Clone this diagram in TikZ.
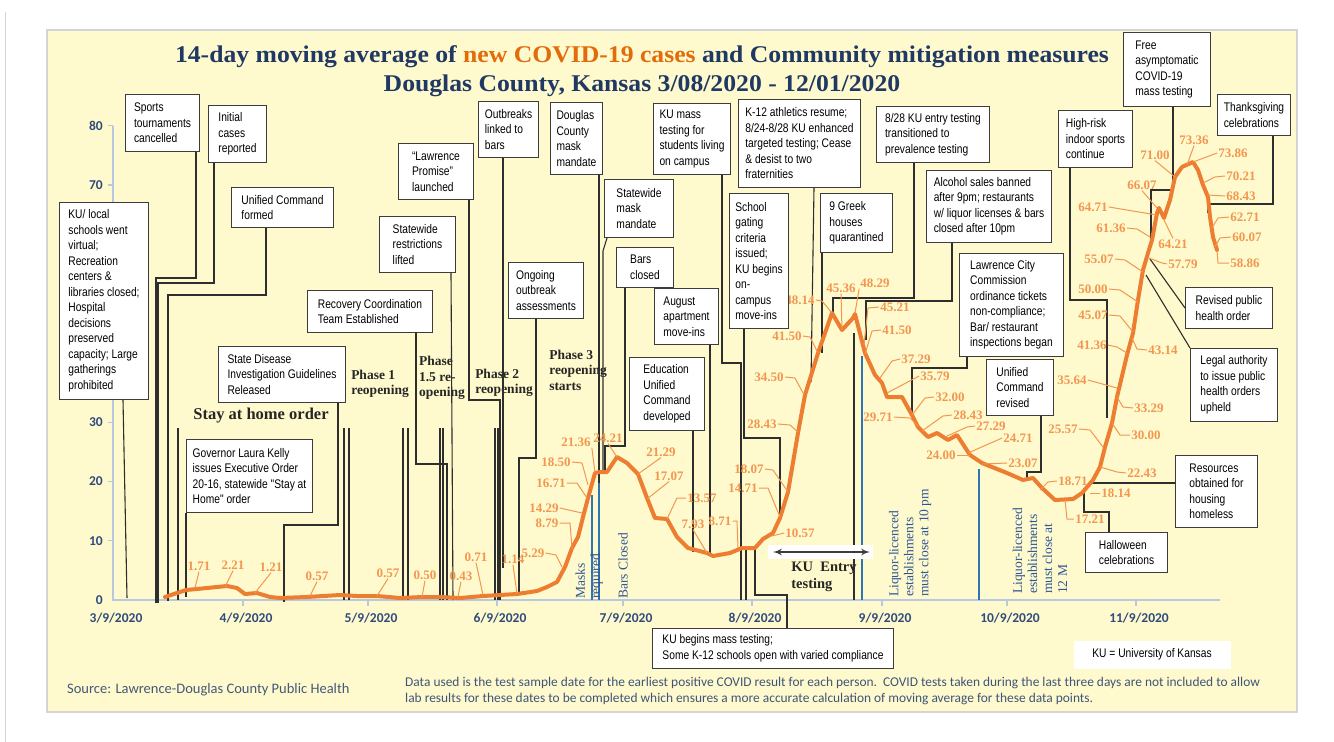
\documentclass[tikz,border=0pt]{standalone}
\usepackage{fontspec}
\setmainfont{Liberation Serif}
\newfontfamily\boxfont{Liberation Sans}[FakeStretch=0.82]
\newfontfamily\titlefont{Liberation Serif}[FakeStretch=1.07]
\newfontfamily\calfont{Carlito}
\usetikzlibrary{arrows, backgrounds}

\definecolor{panel}{HTML}{FFFACD}
\definecolor{panelline}{HTML}{D4D4D4}
\definecolor{boxline}{HTML}{3C3C3C}
\definecolor{connline}{HTML}{2E2E2E}
\definecolor{curvec}{HTML}{ED7D31}
\definecolor{labc}{HTML}{F39650}
\definecolor{markc}{HTML}{2E75B6}
\definecolor{rotc}{HTML}{2F5597}
\definecolor{axisc}{HTML}{2F4B7C}
\definecolor{axisline}{HTML}{B8C8E0}
\definecolor{titlec}{HTML}{1F3864}
\definecolor{titleor}{HTML}{E26B0A}
\definecolor{phasec}{HTML}{262626}
\definecolor{notec}{HTML}{3F5479}

\begin{document}
\begin{tikzpicture}[x=1pt,y=-1pt]
  \tikzset{box/.style = {draw=boxline, line width=1pt, fill=white, anchor=north west, align=left, inner sep=0pt, font=\boxfont\fontsize{12.5}{15.5}\selectfont}}
  \tikzset{conn/.style = {draw=connline, line width=1.1pt}}
  \tikzset{lab/.style = {text=labc, inner sep=1pt, font=\bfseries\fontsize{13}{13}\selectfont}}
  \tikzset{lead/.style = {draw=labc, line width=1pt}}
  \tikzset{phase/.style = {align=left, text=phasec, inner sep=0pt, font=\bfseries\fontsize{13.5}{15.5}\selectfont}}
  \tikzset{rot/.style = {rotate=90, anchor=west, align=left, text=rotc, inner sep=0pt, font=\fontsize{13.5}{15}\selectfont}}
  \tikzset{bluemark/.style = {draw=markc, line width=2.5pt}}
  \tikzset{datelab/.style = {text=axisc, inner sep=0pt, font=\calfont\bfseries\fontsize{13.5}{14}\selectfont}}
  \tikzset{note/.style = {text=notec, inner sep=0pt, anchor=west, font=\calfont\fontsize{13.4}{15}\selectfont}}

  \useasboundingbox (0,0) rectangle (1334,742);

  % annotation boxes
  \node[box, minimum width=89, minimum height=197] (kuschools) at (59,202) {KU/ local\\schools went\\virtual;\\Recreation\\centers \&\\libraries closed;\\Hospital\\decisions\\preserved\\capacity; Large\\gatherings\\prohibited};
  \node[box, minimum width=74, minimum height=57] (sports) at (125,94) {Sports\\tournaments\\cancelled};
  \node[box, minimum width=58, minimum height=57] (initial) at (208,105) {Initial\\cases\\reported};
  \node[box, minimum width=102, minimum height=40] (unified) at (231,187) {Unified Command\\formed};
  \node[box, minimum width=126, minimum height=73] (governor) at (186,439) {Governor Laura Kelly\\issues Executive Order\\20-16, statewide "Stay at\\Home" order};
  \node[box, minimum width=127, minimum height=56] (statedisease) at (218,346) {State Disease\\Investigation Guidelines\\Released};
  \node[box, minimum width=125, minimum height=42] (recovery) at (307,290) {Recovery Coordination\\Team Established};
  \node[box, minimum width=75, minimum height=56] (promise) at (398,143) {“Lawrence\\Promise”\\launched};
  \node[box, minimum width=76, minimum height=56] (statewide) at (379,216) {Statewide\\restrictions\\lifted};
  \node[box, minimum width=60, minimum height=56] (outbreaks) at (478,101) {Outbreaks\\linked to\\bars};
  \node[box, minimum width=75, minimum height=56] (ongoing) at (508,262) {Ongoing\\outbreak\\assessments};
  \node[box, minimum width=52, minimum height=72] (douglas) at (550,102) {Douglas\\County\\mask\\mandate};
  \node[box, minimum width=69, minimum height=58] (statemask) at (604,179) {Statewide\\mask\\mandate};
  \node[box, minimum width=57, minimum height=40] (bars) at (616,247) {Bars\\closed};
  \node[box, minimum width=77, minimum height=71] (kumass) at (653,103) {KU mass\\testing for\\students living\\on campus};
  \node[box, minimum width=64, minimum height=56] (august) at (654,288) {August\\apartment\\move-ins};
  \node[box, minimum width=75, minimum height=73] (education) at (629,357) {Education\\Unified\\Command\\developed};
  \node[box, minimum width=122, minimum height=88] (k12) at (738,99) {K-12 athletics resume;\\8/24-8/28 KU enhanced\\targeted testing; Cease\\\& desist to two\\fraternities};
  \node[box, minimum width=59, minimum height=135] (gating) at (729,193) {School\\gating\\criteria\\issued;\\KU begins\\on-\\campus\\move-ins};
  \node[box, minimum width=72, minimum height=59] (greek) at (820,193) {9 Greek\\houses\\quarantined};
  \node[box, minimum width=113, minimum height=56] (entry) at (876,106) {8/28 KU entry testing\\transitioned to\\prevalence testing};
  \node[box, minimum width=125, minimum height=72] (alcohol) at (926,170) {Alcohol sales banned\\after 9pm; restaurants\\w/ liquor licenses \& bars\\closed after 10pm};
  \node[box, minimum width=104, minimum height=103] (lawrence) at (959,253) {Lawrence City\\Commission\\ordinance tickets\\non-compliance;\\Bar/ restaurant\\inspections began};
  \node[box, minimum width=67, minimum height=56] (ucrevised) at (986,359) {Unified\\Command\\revised};
  \node[box, minimum width=74, minimum height=57] (highrisk) at (1058,110) {High-risk\\indoor sports\\continue};
  \node[box, minimum width=87, minimum height=74] (free) at (1123,32) {Free\\asymptomatic\\COVID-19\\mass testing};
  \node[box, minimum width=73, minimum height=41] (thanks) at (1217,94) {Thanksgiving\\celebrations};
  \node[box, minimum width=87, minimum height=41] (revised) at (1185,287) {Revised public\\health order};
  \node[box, minimum width=87, minimum height=73] (legal) at (1190,348) {Legal authority\\to issue public\\health orders\\upheld};
  \node[box, minimum width=82, minimum height=72] (resources) at (1175,455) {Resources\\obtained for\\housing\\homeless};
  \node[box, minimum width=82, minimum height=40] (halloween) at (1085,532) {Halloween\\celebrations};
  \node[box, minimum width=241, minimum height=40] (kubegins) at (652,628) {KU begins mass testing;\\Some K-12 schools open with varied compliance};
  \node[box, draw=none, minimum width=157, minimum height=28] (kukey) at (1073,640) {KU = University of Kansas};

  \begin{scope}[on background layer]
    % panel and frame
    \fill[white] (0,0) rectangle (1334,742);
    \draw[panelline, line width=1pt] (5,12) -- (5,742);
    \draw[panelline, fill=panel, line width=1.5pt] (47,30) rectangle (1297,712);

    % title
    \node[text=titlec, font=\titlefont\bfseries\fontsize{24}{26}\selectfont] (title1) at (642,57) {14-day moving average of \textcolor{titleor}{new COVID-19 cases} and Community mitigation measures};
    \node[text=titlec, font=\titlefont\bfseries\fontsize{24}{26}\selectfont] (title2) at (642,86) {Douglas County, Kansas 3/08/2020 - 12/01/2020};

    % axes
    \draw[axisline, line width=1.2pt] (113,126) -- (113,600) -- (1220,600);
    \draw[axisline, line width=1.2pt] (108,125.6) -- (113,125.6) (108,184.9) -- (113,184.9) (108,422.1) -- (113,422.1) (108,481.4) -- (113,481.4) (108,540.7) -- (113,540.7);
    \draw[axisline, line width=1.2pt] (243,600) -- (243,606) (368,600) -- (368,606) (497,600) -- (497,606) (623,600) -- (623,606) (752,600) -- (752,606) (882,600) -- (882,606) (1007,600) -- (1007,606) (1136,600) -- (1136,606);
    \node[datelab, anchor=east] (y80) at (103,125.6) {80};
    \node[datelab, anchor=east] (y70) at (103,184.9) {70};
    \node[datelab, anchor=east] (y30) at (103,422.1) {30};
    \node[datelab, anchor=east] (y20) at (103,481.4) {20};
    \node[datelab, anchor=east] (y10) at (103,540.7) {10};
    \node[datelab, anchor=east] (y0) at (103,600) {0};
    \node[datelab] (d1) at (116,618) {3/9/2020};
    \node[datelab] (d2) at (246,618) {4/9/2020};
    \node[datelab] (d3) at (371,618) {5/9/2020};
    \node[datelab] (d4) at (500,618) {6/9/2020};
    \node[datelab] (d5) at (626,618) {7/9/2020};
    \node[datelab] (d6) at (755,618) {8/9/2020};
    \node[datelab] (d7) at (885,618) {9/9/2020};
    \node[datelab] (d8) at (1010,618) {10/9/2020};
    \node[datelab] (d9) at (1139,618) {11/9/2020};

    % reopening phase markers
    \draw[conn] (178,428) -- (178,600);
    \draw[conn] (344,428) -- (344,600);
    \draw[conn] (349,428) -- (349,600);
    \draw[conn] (403,428) -- (403,600);
    \draw[conn] (408,428) -- (408,600);
    \draw[conn] (440,428) -- (440,600);
    \draw[conn] (443,428) -- (443,600);
    \draw[conn] (495,428) -- (495,600);
    \draw[conn] (498,428) -- (498,600);
    \draw[conn] (746,550) -- (746,600);
    \draw[conn] (854,333) -- (854,600);

    \node[phase, font=\bfseries\fontsize{16.5}{18}\selectfont] (stayhome) at (261,416) {Stay at home order};
    \node[phase] (phase1) at (380,384) {Phase 1\\reopening};
    \node[phase] (phase15) at (442,378) {Phase\\1.5 re-\\opening};
    \node[phase] (phase2) at (504,383) {Phase 2\\reopening};
    \node[phase] (phase3) at (578,370) {Phase 3\\reopening\\starts};

    % blue markers
    \draw[bluemark] (592,495) -- (592,600);
    \draw[bluemark, line width=1.6pt] (599,473) -- (599,600);
    \draw[bluemark] (862,356) -- (862,600);
    \draw[bluemark] (979,469) -- (979,600);
    \node[rot] (masks) at (589,599) {Masks\\required};
    \node[rot] (barsclosed) at (623,599) {Bars Closed};
    \node[rot] (liquor10) at (910,597) {Liquor-licenced\\establishments\\must close at 10 pm};
    \node[rot] (liquor12) at (1040,594) {Liquor-licenced\\establishments\\must close at\\12 M};

    % KU entry testing
    \fill[white] (768,545) rectangle (873,559);
    \coordinate (kua) at (773,552);
    \coordinate (kub) at (870,552);
    \draw[<->, >=latex', draw=boxline, line width=2pt] (kua) -- (kub);
    \node[phase, font=\bfseries\fontsize{14.5}{17}\selectfont] (kuentry) at (824,577) {KU\ \ Entry\\testing};

    % connector end points
    \coordinate (e-ku) at (127,598);
    \coordinate (e-sports) at (156,603);
    \coordinate (e-initial) at (158,603);
    \coordinate (e-unified) at (168,601);
    \coordinate (e-gov) at (186,597);
    \coordinate (e-statedisease) at (284,602);
    \coordinate (e-recovery) at (447,600);
    \coordinate (e-promise) at (500,600);
    \coordinate (e-statewide) at (453,600);
    \coordinate (e-outbreaks) at (503,568);
    \coordinate (e-ongoing) at (519,595);
    \coordinate (e-douglas) at (599,483);
    \coordinate (e-statemask) at (603,470);
    \coordinate (e-bars) at (605,470);
    \coordinate (e-kumass) at (741,600);
    \coordinate (e-august) at (710,553);
    \coordinate (e-education) at (693,552);
    \coordinate (e-gating) at (780,518);
    \coordinate (e-kubegins) at (755,548);
    \coordinate (e-k12) at (811,382);
    \coordinate (e-greek) at (822,353);
    \coordinate (e-entry) at (833,317);
    \coordinate (e-alcohol) at (866,340);
    \coordinate (e-lawrence) at (912,418);
    \coordinate (e-ucrevised) at (1027,480);
    \coordinate (e-highrisk) at (1107,418);
    \coordinate (e-free) at (1151,243);
    \coordinate (e-thanks) at (1208,213);
    \coordinate (e-revised) at (1150,259);
    \coordinate (e-legal) at (1146,275);
    \coordinate (e-resources) at (1092,483);
    \coordinate (e-halloween) at (1084,493);

    % connectors
    \draw[conn] (kuschools.south -| 123,0) -- (e-ku);
    \draw[conn] (sports.south -| 196,0) -- ++(0,126) -| (e-sports);
    \draw[conn] (initial.south -| 214,0) -- ++(0,120) -| (e-initial);
    \draw[conn] (unified.south -| 266,0) -- ++(0,67) -| (e-unified);
    \draw[conn] (governor.south west) -- (e-gov);
    \draw[conn] (statedisease.south -| 338,0) -- ++(0,122) -| (e-statedisease);
    \draw[conn] (recovery.south -| 416,0) -- ++(0,131) -| (e-recovery);
    \draw[conn] (promise.south -| 469,0) -- ++(0,200) -| (e-promise);
    \draw[conn] (statewide.south -| 451,0) -- (e-statewide);
    \draw[conn] (outbreaks.south -| 503,0) -- (e-outbreaks);
    \draw[conn] (ongoing.south -| 536,0) -- ++(0,139) -| (e-ongoing);
    \draw[conn] (douglas.south -| 599,0) -- (e-douglas);
    \draw[conn] (statemask.south -| 607,0) -- ++(-4,13) -- (e-statemask);
    \draw[conn] (bars.south -| 625,0) -- ++(0,158) -| (e-bars);
    \draw[conn] (kumass.south -| 722,0) -- ++(0,188) -| (e-kumass);
    \draw[conn] (august.south -| 710,0) -- (e-august);
    \draw[conn] (education.south -| 693,0) -- (e-education);
    \draw[conn] (gating.south -| 744,0) -- ++(0,109) -| (e-gating);
    \draw[conn] (kubegins.north -| 787,0) -- ++(0,-33) -| (e-kubegins);
    \draw[conn] (k12.south -| 814,0) -- (e-k12);
    \draw[conn] (greek.south -| 822,0) -- (e-greek);
    \draw[conn] (entry.south -| 914,0) -- ++(0,135) -| (e-entry);
    \draw[conn] (alcohol.south -| 952,0) -- ++(0,58) -| (e-alcohol);
    \draw[conn] (lawrence.south -| 967,0) -- ++(0,11) -| (e-lawrence);
    \draw[conn] (ucrevised.south -| 1041,0) -- ++(0,56) -| (e-ucrevised);
    \draw[conn] (highrisk.south -| 1070,0) -- ++(0,132) -| (e-highrisk);
    \draw[conn] (free.south -| 1173,0) -- ++(0,83) -| (e-free);
    \draw[conn] (thanks.south -| 1273,0) -- ++(0,68) -| (e-thanks);
    \draw[conn] (revised.west) -- (e-revised);
    \draw[conn] (legal.north west) -- (e-legal);
    \draw[conn] (resources.west |- e-resources) -- (e-resources);
    \draw[conn] (halloween.north -| 1109,0) -- ++(0,-20) -| (e-halloween);

    % moving average curve
    \draw[curvec, line width=4pt, line join=round, line cap=round] plot coordinates {(165,597) (177,593) (186,590) (197,589) (217,587) (227,586) (237,588) (245,594) (257,593) (270,597) (280,598) (307,597) (340,595) (357,596) (377,596) (400,598) (423,597) (440,597) (460,598) (483,596) (517,594) (537,591) (547,587) (557,582) (565,567) (572,548) (578,537) (583,517) (588,498) (595,473) (600,472) (607,472) (617,457) (627,463) (638,474) (647,498) (655,518) (667,519) (677,537) (688,548) (707,553) (713,556) (730,553) (742,548) (755,548) (763,539) (773,533) (780,518) (788,492) (798,433) (805,395) (818,353) (832,313) (842,330) (853,318) (855,314) (865,353) (875,375) (882,383) (887,397) (902,397) (912,415) (918,427) (928,437) (937,433) (948,440) (957,435) (970,455) (982,463) (1007,473) (1023,480) (1033,478) (1042,488) (1055,500) (1073,499) (1082,493) (1093,480) (1100,467) (1105,447) (1112,423) (1117,397) (1127,355) (1133,333) (1138,300) (1143,270) (1148,253) (1152,240) (1157,213) (1159,208) (1164,218) (1170,200) (1175,177) (1182,167) (1193,162) (1198,170) (1203,185) (1208,197) (1210,217) (1213,237) (1217,250)};

    % data labels
    \node[lab] (v171) at (199,566) {1.71};
    \draw[lead] (v171.south) -- (195,588);
    \node[lab] (v221) at (233,565) {2.21};
    \draw[lead] (v221.south) -- (225,587);
    \node[lab] (v121) at (271,567) {1.21};
    \draw[lead] (v121.south) -- (255,593);
    \node[lab] (v057a) at (317,576) {0.57};
    \draw[lead] (v057a.south) -- (310,596);
    \node[lab] (v057b) at (388,573) {0.57};
    \draw[lead] (v057b.south) -- (377,596);
    \node[lab] (v050) at (425,575) {0.50};
    \draw[lead] (v050.south) -- (422,597);
    \node[lab] (v043) at (461,576) {0.43};
    \draw[lead] (v043.south) -- (458,597);
    \node[lab] (v071) at (476,557) {0.71};
    \draw[lead] (v071.south) -- (483,595);
    \node[lab] (v114) at (513,559) {1.14};
    \draw[lead] (v114.south) -- (517,594);
    \node[lab] (v529) at (533,553) {5.29};
    \draw[lead] (v529.east) -- (556,555) -- (562,567);
    \node[lab] (v879) at (547,523) {8.79};
    \draw[lead] (v879.east) -- (570,523) -- (572,548);
    \node[lab] (v1429) at (544,508) {14.29};
    \draw[lead] (v1429.east) -- (582,513);
    \node[lab] (v1671) at (551,483) {16.71};
    \draw[lead] (v1671.east) -- (577,483) -- (587,498);
    \node[lab] (v1850) at (556,462) {18.50};
    \draw[lead] (v1850.east) -- (582,463) -- (588,485);
    \node[lab] (v2136) at (576,442) {21.36};
    \draw[lead] (v2136.south east) -- (595,473);
    \node[lab] (v2421) at (608,438) {24.21};
    \draw[lead] (v2421.south) -- (617,457);
    \node[lab] (v2129) at (661,452) {21.29};
    \draw[lead] (v2129.south) -- (638,474);
    \node[lab] (v1707) at (669,476) {17.07};
    \draw[lead] (v1707.south) -- (647,499);
    \node[lab] (v1357) at (702,498) {13.57};
    \draw[lead] (v1357.west) -- (677,498) -- (667,519);
    \node[lab] (v793) at (693,524) {7.93};
    \draw[lead] (v793.south) -- (707,553);
    \node[lab] (v871) at (720,521) {8.71};
    \draw[lead] (v871.east) -- (737,521) -- (738,548);
    \node[lab] (v1057) at (800,533) {10.57};
    \draw[lead] (v1057.west) -- (772,536);
    \node[lab] (v1471) at (743,488) {14.71};
    \draw[lead] (v1471.east) -- (768,488) -- (780,517);
    \node[lab] (v1807) at (749,469) {18.07};
    \draw[lead] (v1807.east) -- (773,470) -- (788,492);
    \node[lab] (v2843a) at (762,424) {28.43};
    \draw[lead] (v2843a.east) -- (790,425) -- (798,432);
    \node[lab] (v3450) at (769,377) {34.50};
    \draw[lead] (v3450.east) -- (795,378) -- (803,393);
    \node[lab] (v4150a) at (787,336) {41.50};
    \draw[lead] (v4150a.east) -- (810,337) -- (818,353);
    \node[lab] (v4814) at (800,300) {48.14};
    \draw[lead] (v4814.east) -- (822,301) -- (832,313);
    \node[lab] (v4536) at (841,288) {45.36};
    \draw[lead] (v4536.south) -- (842,330);
    \node[lab] (v4829) at (875,283) {48.29};
    \draw[lead] (v4829.south west) -- (855,313);
    \node[lab] (v4521) at (895,307) {45.21};
    \draw[lead] (v4521.west) -- (868,308) -- (864,345);
    \node[lab] (v4150b) at (897,330) {41.50};
    \draw[lead] (v4150b.west) -- (872,331) -- (865,354);
    \node[lab] (v3729) at (916,359) {37.29};
    \draw[lead] (v3729.west) -- (892,361) -- (880,378);
    \node[lab] (v3579) at (935,376) {35.79};
    \draw[lead] (v3579.west) -- (887,393);
    \node[lab] (v3200) at (950,397) {32.00};
    \draw[lead] (v3200.west) -- (925,398) -- (912,415);
    \node[lab] (v2971) at (878,417) {29.71};
    \draw[lead] (v2971.east) -- (910,418) -- (918,426);
    \node[lab] (v2843b) at (968,415) {28.43};
    \draw[lead] (v2843b.west) -- (943,416) -- (922,431);
    \node[lab] (v2729) at (991,426) {27.29};
    \draw[lead] (v2729.west) -- (967,427) -- (945,437);
    \node[lab] (v2471) at (1018,438) {24.71};
    \draw[lead] (v2471.west) -- (968,453);
    \node[lab] (v2400) at (941,455) {24.00};
    \draw[lead] (v2400.east) -- (970,455);
    \node[lab] (v2307) at (1023,463) {23.07};
    \draw[lead] (v2307.west) -- (983,464);
    \node[lab] (v1871) at (1073,481) {18.71};
    \draw[lead] (v1871.west) -- (1048,482) -- (1040,490);
    \node[lab] (v1721) at (1090,519) {17.21};
    \draw[lead] (v1721.west) -- (1067,519) -- (1065,500);
    \node[lab] (v1814) at (1116,493) {18.14};
    \draw[lead] (v1814.west) -- (1090,493);
    \node[lab] (v2243) at (1142,473) {22.43};
    \draw[lead] (v2243.west) -- (1117,472) -- (1100,467);
    \node[lab] (v2557) at (1063,429) {25.57};
    \draw[lead] (v2557.east) -- (1090,430) -- (1103,447);
    \node[lab] (v3000) at (1146,435) {30.00};
    \draw[lead] (v3000.west) -- (1120,435) -- (1112,423);
    \node[lab] (v3564) at (1072,380) {35.64};
    \draw[lead] (v3564.east) -- (1117,388);
    \node[lab] (v3329) at (1149,408) {33.29};
    \draw[lead] (v3329.west) -- (1123,407) -- (1117,397);
    \node[lab] (v4136) at (1092,345) {41.36};
    \draw[lead] (v4136.east) -- (1117,347) -- (1127,353);
    \node[lab] (v4314) at (1163,350) {43.14};
    \draw[lead] (v4314.west) -- (1137,349) -- (1132,338);
    \node[lab] (v4507) at (1093,315) {45.07};
    \draw[lead] (v4507.east) -- (1120,316) -- (1133,332);
    \node[lab] (v5000) at (1093,289) {50.00};
    \draw[lead] (v5000.east) -- (1120,290) -- (1138,302);
    \node[lab] (v5507) at (1099,259) {55.07};
    \draw[lead] (v5507.east) -- (1125,260) -- (1143,272);
    \node[lab] (v5779) at (1183,264) {57.79};
    \draw[lead] (v5779.west) -- (1162,263) -- (1149,258);
    \node[lab] (v6136) at (1111,228) {61.36};
    \draw[lead] (v6136.east) -- (1137,229) -- (1150,237);
    \node[lab] (v6471) at (1093,207) {64.71};
    \draw[lead] (v6471.east) -- (1157,215);
    \node[lab] (v6607) at (1142,185) {66.07};
    \draw[lead] (v6607.south) -- (1157,208);
    \node[lab] (v6421) at (1173,244) {64.21};
    \draw[lead] (v6421.north) -- (1164,220);
    \node[lab] (v7100) at (1155,155) {71.00};
    \draw[lead] (v7100.south) -- (1175,177);
    \node[lab] (v7336) at (1194,140) {73.36};
    \draw[lead] (v7336.south) -- (1187,165);
    \node[lab] (v7386) at (1233,153) {73.86};
    \draw[lead] (v7386.west) -- (1193,162);
    \node[lab] (v7021) at (1241,176) {70.21};
    \draw[lead] (v7021.west) -- (1215,177) -- (1203,183);
    \node[lab] (v6843) at (1241,196) {68.43};
    \draw[lead] (v6843.west) -- (1208,195);
    \node[lab] (v6271) at (1245,217) {62.71};
    \draw[lead] (v6271.west) -- (1218,218) -- (1212,228);
    \node[lab] (v6007) at (1247,237) {60.07};
    \draw[lead] (v6007.west) -- (1220,238) -- (1215,247);
    \node[lab] (v5886) at (1245,263) {58.86};
    \draw[lead] (v5886.west) -- (1218,263) -- (1217,250);

    % source and note
    \node[note, text=notec!90!gray, font=\calfont\fontsize{14.5}{16}\selectfont] (source) at (67,690) {Source: Lawrence-Douglas County Public Health};
    \node[note] (note1) at (405,683) {Data used is the test sample date for the earliest positive COVID result for each person.\ \ COVID tests taken during the last three days are not included to allow};
    \node[note] (note2) at (405,699) {lab results for these dates to be completed which ensures a more accurate calculation of moving average for these data points.};
  \end{scope}
\end{tikzpicture}
\end{document}
